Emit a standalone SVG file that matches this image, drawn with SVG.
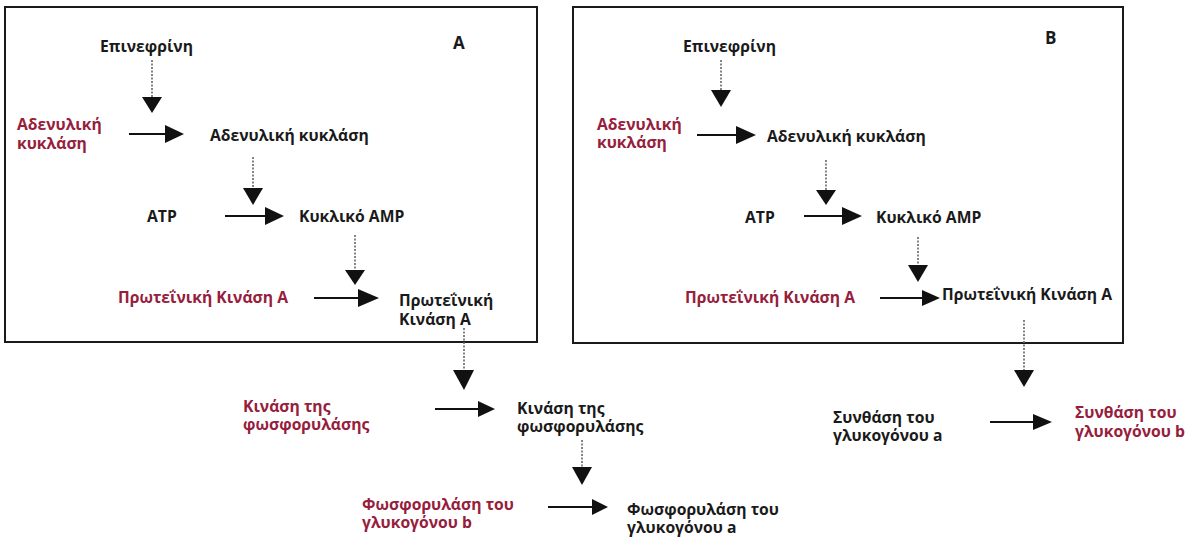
<svg xmlns="http://www.w3.org/2000/svg" width="1193" height="539" viewBox="0 0 1193 539">
<style>
text{font-family:"Open Sans","Liberation Sans",sans-serif;font-size:15.7px;font-weight:700;fill:#1a1a1a}
.r{fill:#96203c}
.lbl{font-weight:700;font-size:17px}
.box{fill:none;stroke:#1a1a1a;stroke-width:2}
.dot{stroke:#666;stroke-width:1.6;stroke-dasharray:2 1.5;fill:none}
.sol{stroke:#111;stroke-width:2;fill:none}
.head{fill:#111}
</style>
<rect width="1193" height="539" fill="#fff"/>
<g id="boxA"><rect class="box" x="5" y="7" width="532" height="335"/><text class="lbl" x="453" y="49">A</text></g>
<g id="boxB"><rect class="box" x="573" y="7" width="550" height="336"/><text class="lbl" x="1045" y="44">B</text></g>

<g id="A-epi"><text x="100" y="52">Επινεφρίνη</text></g>
<g id="A-ac-red"><text class="r" x="17" y="130">Αδενυλική<tspan x="17" dy="19">κυκλάση</tspan></text></g>
<g id="A-ac"><text x="210" y="141">Αδενυλική κυκλάση</text></g>
<g id="A-atp"><text x="147" y="222">ATP</text></g>
<g id="A-camp"><text x="299" y="222">Κυκλικό AMP</text></g>
<g id="A-pka-red"><text class="r" x="118" y="303">Πρωτεΐνική Κινάση Α</text></g>
<g id="A-pka"><text x="399" y="306">Πρωτεΐνική<tspan x="399" dy="19">Κινάση Α</tspan></text></g>
<g id="A-phk-red"><text class="r" x="243" y="412">Κινάση της<tspan x="243" dy="18">φωσφορυλάσης</tspan></text></g>
<g id="A-phk"><text x="517" y="414">Κινάση της<tspan x="517" dy="18">φωσφορυλάσης</tspan></text></g>
<g id="A-gp-red"><text class="r" x="362" y="510">Φωσφορυλάση του<tspan x="362" dy="18">γλυκογόνου b</tspan></text></g>
<g id="A-gp"><text x="627" y="515">Φωσφορυλάση του<tspan x="627" dy="18">γλυκογόνου a</tspan></text></g>

<g id="B-epi"><text x="683" y="52">Επινεφρίνη</text></g>
<g id="B-ac-red"><text class="r" x="597" y="130">Αδενυλική<tspan x="597" dy="18">κυκλάση</tspan></text></g>
<g id="B-ac"><text x="767" y="142">Αδενυλική κυκλάση</text></g>
<g id="B-atp"><text x="745" y="223">ATP</text></g>
<g id="B-camp"><text x="876" y="223">Κυκλικό AMP</text></g>
<g id="B-pka-red"><text class="r" x="685" y="303">Πρωτεΐνική Κινάση Α</text></g>
<g id="B-pka"><text x="942" y="300">Πρωτεΐνική Κινάση Α</text></g>
<g id="B-gs"><text x="833" y="423">Συνθάση του<tspan x="833" dy="18">γλυκογόνου a</tspan></text></g>
<g id="B-gs-red"><text class="r" x="1075" y="418">Συνθάση του<tspan x="1075" dy="19">γλυκογόνου b</tspan></text></g>

<g id="connectors">
<path class="dot" d="M152 60V98M253 157V189M355 235V271M464 328V371M582 440V468M721 60V91M826 160V191M918 237V266M1024 320V371"/>
<g class="head">
<polygon points="142,97 162,97 152,113"/>
<polygon points="243,188 263,188 253,205"/>
<polygon points="345,270 365,270 355,285"/>
<polygon points="453,370 474,370 464,390"/>
<polygon points="572,467 592,467 582,485"/>
<polygon points="711,90 731,90 721,107"/>
<polygon points="816,190 836,190 826,205"/>
<polygon points="908,265 928,265 918,282"/>
<polygon points="1014,370 1034,370 1024,387"/>
</g>
<path class="sol" d="M129 134H166M225 216H266M314 298H359M435 409H479M548 507H593M697 135H737M804 216H843M880 298H923M990 422H1034"/>
<g class="head">
<polygon points="165,125 165,143 184,134"/>
<polygon points="265,207 265,225 284,216"/>
<polygon points="358,289 358,307 379,298"/>
<polygon points="478,401 478,417 495,409"/>
<polygon points="592,499 592,515 608,507"/>
<polygon points="736,126 736,144 756,135"/>
<polygon points="842,207 842,225 862,216"/>
<polygon points="922,290 922,306 940,298"/>
<polygon points="1033,414 1033,430 1052,422"/>
</g>
</g>
</svg>
